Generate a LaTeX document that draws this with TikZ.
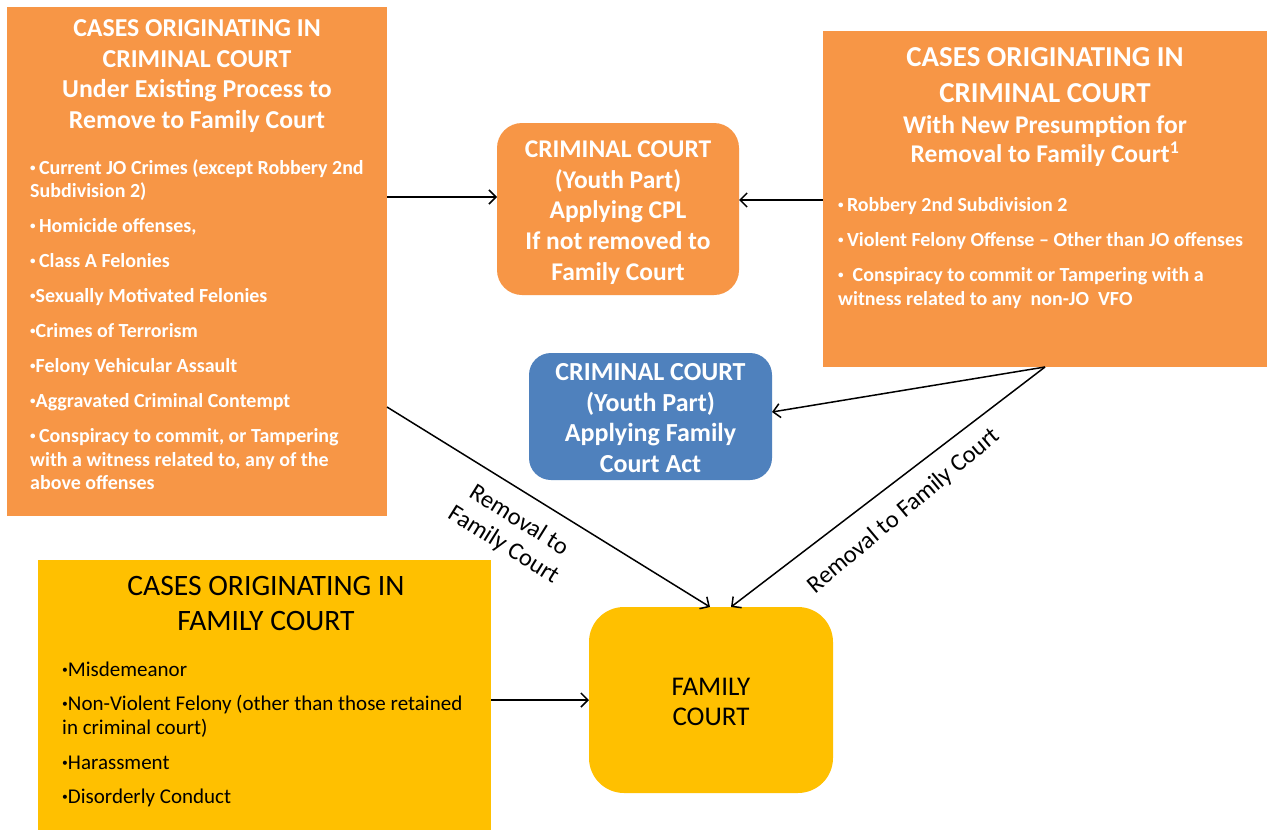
\documentclass[tikz,border=0pt]{standalone}
\usepackage{fontspec}
\usepackage{graphicx}
\setmainfont{Carlito}
\usetikzlibrary{arrows.meta}
\definecolor{boxorange}{HTML}{F79646}
\definecolor{boxblue}{HTML}{4F81BD}
\definecolor{boxyellow}{HTML}{FFC000}
% small list bullet
\newcommand{\bul}{\raisebox{0.14em}{\scalebox{0.55}{•}}}
\begin{document}
\begin{tikzpicture}[x=1pt,y=-1pt,
  panel/.style={inner sep=0pt, outer sep=0pt, draw=none},
  roundbox/.style={panel, rounded corners=#1},
  headtext/.style={inner sep=0pt, align=center, text=white},
  listtext/.style={inner sep=0pt, align=left, anchor=west},
  arr/.style={draw=black, line width=1.5pt, -{Straight Barb[length=7pt,width=14pt]}},
  lbl/.style={inner sep=0pt, align=center, font=\fontsize{24.5}{29}\selectfont}
]
\useasboundingbox[fill=white] (0,0) rectangle (1267,830);

% ---- boxes ----
\node[panel, fill=boxorange, minimum width=380pt, minimum height=509pt] (A) at (197,261.5) {};
\node[panel, fill=boxorange, minimum width=444pt, minimum height=336pt] (C) at (1045,199) {};
\node[panel, fill=boxyellow, minimum width=453pt, minimum height=270pt] (E) at (264.5,695) {};
\node[roundbox=25pt, fill=boxorange, minimum width=242pt, minimum height=172pt] (B) at (618,209) {};
\node[roundbox=22pt, fill=boxblue, minimum width=243pt, minimum height=127pt] (D) at (650.5,416.5) {};
\node[roundbox=35pt, fill=boxyellow, minimum width=244pt, minimum height=186pt] (F) at (711,700) {};

% ---- texts of the rounded court boxes ----
\node[headtext, font=\bfseries\fontsize{25.5}{30.8}\selectfont] (Btext) at (618,212.5)
  {CRIMINAL COURT\\(Youth Part)\\Applying CPL\\If not removed to\\Family Court};
\node[headtext, font=\bfseries\fontsize{26}{30.8}\selectfont] (Dtext) at (650.5,418)
  {CRIMINAL COURT\\(Youth Part)\\Applying Family\\Court Act};
\node[headtext, text=black, font=\fontsize{27}{30}\selectfont] (Ftext) at (711,702)
  {FAMILY\\COURT};

% ---- text of the left criminal-court panel ----
\node[headtext, font=\bfseries\fontsize{25.8}{30.5}\selectfont] (Ahead) at (197,76)
  {CASES ORIGINATING IN\\CRIMINAL COURT\\Under Existing Process to\\Remove to Family Court};
\node[listtext, text=white, font=\bfseries\fontsize{20}{23.5}\selectfont] (Alist) at (30,324.5)
  {\bul\,Current JO Crimes (except Robbery 2nd\\Subdivision 2)\\[11.5pt]
   \bul\,Homicide offenses,\\[11.5pt]
   \bul\,Class A Felonies\\[11.5pt]
   \bul Sexually Motivated Felonies\\[11.5pt]
   \bul Crimes of Terrorism\\[11.5pt]
   \bul Felony Vehicular Assault\\[11.5pt]
   \bul Aggravated Criminal Contempt\\[11.5pt]
   \bul\,Conspiracy to commit, or Tampering\\with a witness related to, any of the\\above offenses};

% ---- text of the right criminal-court panel ----
\node[headtext, font=\bfseries\fontsize{28.9}{36}\selectfont] (Chead) at (1045,75)
  {CASES ORIGINATING IN\\CRIMINAL COURT};
\node[headtext, font=\bfseries\fontsize{25.5}{29}\selectfont] (Csub) at (1045,141)
  {With New Presumption for\\Removal to Family Court\textsuperscript{1}};
\node[listtext, text=white, font=\bfseries\fontsize{20}{24}\selectfont] (Clist) at (838,253)
  {\bul\,Robbery 2nd Subdivision 2\\[11pt]
   \bul\,Violent Felony Offense -- Other than JO offenses\\[11pt]
   \bul\ \ Conspiracy to commit or Tampering with a\\witness related to any \ non-JO \ VFO};

% ---- text of the family-court panel ----
\node[headtext, text=black, font=\fontsize{29.6}{35}\selectfont] (Ehead) at (266,603)
  {CASES ORIGINATING IN\\FAMILY COURT};
\node[listtext, text=black, font=\fontsize{21}{24}\selectfont] (Elist) at (62,734)
  {\bul Misdemeanor\\[10pt]
   \bul Non-Violent Felony (other than those retained\\in criminal court)\\[11pt]
   \bul Harassment\\[10pt]
   \bul Disorderly Conduct};

% ---- connectors ----
\draw[arr] (A.east |- 0,197) -- (B.west |- 0,197);
\draw[arr] (C.west |- 0,200) -- (B.east |- 0,200);
\draw[arr] (C.south) -- (D.east |- 0,412);
\draw[arr] (C.south) -- ([xshift=20pt]F.north);
\draw[arr] (A.east |- 0,407) -- ([xshift=-1pt]F.north);
\draw[arr] (E.east |- F.west) -- (F.west);

% ---- connector labels ----
\node[lbl, rotate=-32] (L1) at (511,533) {Removal to\\Family Court};
\node[lbl, rotate=40] (L2) at (904,511) {Removal to Family Court};
\end{tikzpicture}
\end{document}
